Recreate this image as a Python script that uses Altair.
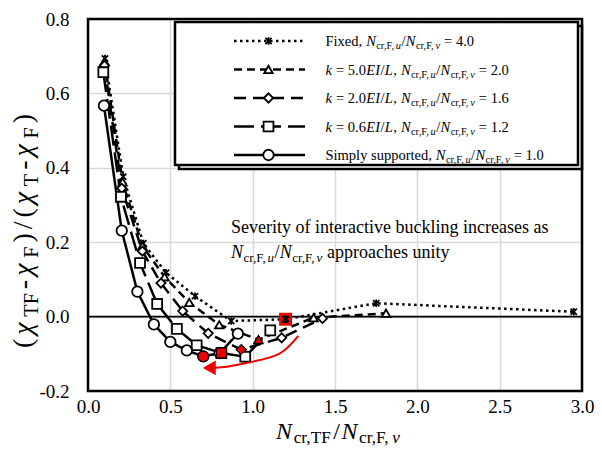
import altair as alt
import pandas as pd

# ---------------- data ----------------
series_names = ["Fixed", "k5", "k2", "k06", "SS"]
fixed_x = [0.103, 0.214, 0.336, 0.474, 0.650, 0.870, 1.200, 1.750, 2.950]
fixed_y = [0.694, 0.376, 0.197, 0.118, 0.055, -0.012, -0.007, 0.036, 0.013]
k5_x = [0.100, 0.210, 0.330, 0.465, 0.615, 0.797, 1.035, 1.370, 1.810]
k5_y = [0.685, 0.362, 0.190, 0.107, 0.038, -0.022, -0.062, -0.003, 0.009]
k2_x = [0.100, 0.205, 0.330, 0.443, 0.575, 0.730, 0.931, 1.176, 1.424]
k2_y = [0.675, 0.345, 0.176, 0.090, 0.015, -0.045, -0.089, -0.057, -0.005]
k06_x = [0.093, 0.200, 0.316, 0.420, 0.540, 0.660, 0.810, 0.955, 1.107]
k06_y = [0.657, 0.322, 0.144, 0.034, -0.033, -0.077, -0.098, -0.108, -0.037]
ss_x = [0.097, 0.205, 0.300, 0.400, 0.500, 0.600, 0.700, 0.800, 0.910]
ss_y = [0.567, 0.231, 0.067, -0.021, -0.068, -0.091, -0.107, -0.098, -0.046]
red_index = 6
arrow_x = [1.277, 1.166, 1.002, 0.842, 0.740]
arrow_y = [-0.052, -0.099, -0.121, -0.135, -0.138]
x_ticks = [0.0, 0.5, 1.0, 1.5, 2.0, 2.5, 3.0]
y_ticks = [-0.2, 0.0, 0.2, 0.4, 0.6, 0.8]
legend_prefix = ["Fixed", "5.0", "2.0", "0.6", "Simply supported"]
legend_ratio = ["4.0", "2.0", "1.6", "1.2", "1.0"]

# ---------------- geometry / styles ----------------
W, H = 494, 372
X0, X1, Y0, Y1 = 0.0, 3.0, -0.2, 0.8
FONT = "Liberation Serif"
RED = "#ee0000"
xs = alt.Scale(domain=[X0, X1], nice=False, zero=False)
ys = alt.Scale(domain=[Y0, Y1], nice=False, zero=False)

axis_x = alt.Axis(values=x_ticks, title=None, grid=True, ticks=False, domain=False,
                  labelExpr="format(datum.value, '.1f')", labelPadding=6,
                  labelFlush=False, labelOverlap=False,
                  labelFontSize=19, labelFont=FONT, labelColor="black",
                  gridColor="#d9d9d9", gridWidth=1.5)
axis_y = alt.Axis(values=y_ticks, title=None, grid=True, ticks=False, domain=False,
                  labelExpr="replace(format(datum.value, '.1f'), '\u2212', '-')",
                  labelPadding=19, labelFlush=False, labelOverlap=False,
                  labelFontSize=19, labelFont=FONT,
                  labelColor="black", gridColor="#d9d9d9", gridWidth=1.5)


def X():
    return alt.X("x:Q", scale=xs, axis=axis_x)


def Y():
    return alt.Y("y:Q", scale=ys, axis=axis_y)


def px2x(p):
    return X0 + p / W * (X1 - X0)


def py2y(p):
    return Y1 - p / H * (Y1 - Y0)


rows = []
for name, xv, yv in zip(series_names, [fixed_x, k5_x, k2_x, k06_x, ss_x],
                        [fixed_y, k5_y, k2_y, k06_y, ss_y]):
    for i, (a, b) in enumerate(zip(xv, yv)):
        rows.append(dict(series=name, x=a, y=b, idx=i))
df = pd.DataFrame(rows)

XPATH = "M-0.8,-0.8L0.8,0.8M-0.8,0.8L0.8,-0.8M0,-0.95L0,0.95"
dash_scale = alt.Scale(domain=series_names,
                       range=[[2.5, 3.5], [8, 5], [12, 7], [20, 7], [1, 0]])
width_scale = alt.Scale(domain=series_names, range=[2.5, 2.5, 2.5, 2.5, 2.0])
shape_scale = alt.Scale(domain=series_names,
                        range=[XPATH, "triangle-up", "diamond", "square", "circle"])
size_scale = alt.Scale(domain=series_names, range=[60, 110, 110, 75, 70])

base = alt.Chart(df)
lines = base.mark_line(color="black").encode(
    x=X(), y=Y(), detail="series:N", order="idx:Q",
    strokeDash=alt.StrokeDash("series:N", scale=dash_scale, legend=None),
    strokeWidth=alt.StrokeWidth("series:N", scale=width_scale, legend=None),
)
points = base.mark_point(fill="white", stroke="black", strokeWidth=1.8, opacity=1,
                         filled=False).encode(
    x=X(), y=Y(),
    shape=alt.Shape("series:N", scale=shape_scale, legend=None),
    size=alt.Size("series:N", scale=size_scale, legend=None),
)
red_df = df[(df.idx == red_index) & (df.series != "Fixed")]
red_pts = alt.Chart(red_df).mark_point(fill=RED, stroke="black", strokeWidth=1,
                                       opacity=1, filled=True).encode(
    x=X(), y=Y(),
    shape=alt.Shape("series:N", scale=shape_scale, legend=None),
    size=alt.Size("series:N", scale=size_scale, legend=None),
)
fixed_red = df[(df.idx == red_index) & (df.series == "Fixed")]
red_sq = alt.Chart(fixed_red).mark_point(shape="square", fill=RED, stroke=RED,
                                         filled=True, size=120, opacity=1).encode(x=X(), y=Y())
red_x = alt.Chart(fixed_red).mark_point(shape=XPATH, stroke="black", strokeWidth=2.5,
                                        filled=False, size=60, opacity=1).encode(x=X(), y=Y())

zero = alt.Chart(pd.DataFrame({"y": [0.0]})).mark_rule(color="black", strokeWidth=1.8).encode(y=Y())

arrow_df = pd.DataFrame({"x": arrow_x, "y": arrow_y, "o": range(len(arrow_x))})
arrow = alt.Chart(arrow_df).mark_line(color=RED, strokeWidth=2, interpolate="natural").encode(
    x=X(), y=Y(), order="o:Q")
head = alt.Chart(arrow_df.tail(1)).mark_point(shape="triangle-left", fill=RED, stroke=RED,
                                              filled=True, size=130, opacity=1, dx=-7).encode(
    x=X(), y=Y())

# ---------------- legend ----------------
leg_rows_px = [22, 50.5, 79, 107.5, 136]
lx0, lx1, lxm = 146, 217, 180.5
leg_lines = pd.DataFrame([dict(series=s, x=px2x(p), y=py2y(r), o=j)
                          for s, r in zip(series_names, leg_rows_px)
                          for j, p in enumerate([lx0, lx1])])
leg_marks = pd.DataFrame([dict(series=s, x=px2x(lxm), y=py2y(r))
                          for s, r in zip(series_names, leg_rows_px)])
leg_line_layer = alt.Chart(leg_lines).mark_line(color="black").encode(
    x=X(), y=Y(), detail="series:N", order="o:Q",
    strokeDash=alt.StrokeDash("series:N", scale=dash_scale, legend=None),
    strokeWidth=alt.StrokeWidth("series:N", scale=width_scale, legend=None))
leg_mark_layer = alt.Chart(leg_marks).mark_point(fill="white", stroke="black", strokeWidth=1.8,
                                                 opacity=1, filled=False).encode(
    x=X(), y=Y(),
    shape=alt.Shape("series:N", scale=shape_scale, legend=None),
    size=alt.Size("series:N", scale=size_scale, legend=None))
box_shadow = alt.Chart(pd.DataFrame({"a": [0]})).mark_rect(
    fill="white", stroke="black", strokeWidth=2.5).encode(
    x=alt.value(91), x2=alt.value(494), y=alt.value(7), y2=alt.value(150))
box = alt.Chart(pd.DataFrame({"a": [0]})).mark_rect(
    fill="white", stroke="black", strokeWidth=2.5).encode(
    x=alt.value(87), x2=alt.value(490), y=alt.value(3), y2=alt.value(146))
border = alt.Chart(pd.DataFrame({"a": [0]})).mark_rect(
    fill=None, stroke="black", strokeWidth=2.5).encode(
    x=alt.value(0), x2=alt.value(W), y=alt.value(0), y2=alt.value(H))

# ---------------- composed math text ----------------
RM = {' ': .25, ',': .25, '.': .25, '/': .278, '=': .564, '(': .333, ')': .333,
      '-': .333, 'F': .556, 'T': .611, 'N': .722, 'S': .556, 'a': .444, 'b': .5,
      'c': .444, 'd': .5, 'e': .444, 'f': .333, 'g': .5, 'h': .5, 'i': .278,
      'k': .5, 'l': .278, 'm': .778, 'n': .5, 'o': .5, 'p': .5, 'r': .333,
      's': .389, 't': .278, 'u': .5, 'v': .5, 'x': .5, 'y': .5, '\u03c7': .5}
IT = {'N': .667, 'E': .611, 'I': .333, 'L': .556, 'k': .444, 'u': .5, 'v': .444,
      '\u03c7': .5}
SUBR = 0.72
text_rows = []


def compose(pieces, x0, y0, size, gap=0.0, vertical=False, center=False, subshift=0.22):
    def wid(t, st):
        tab = IT if st in ("it", "subit") else RM
        s = size * SUBR if st.startswith("sub") else size
        return sum(tab.get(ch, RM.get(ch, .5)) for ch in t) * s
    widths = [wid(t, st) for t, st in pieces]
    total = sum(widths) + gap * (len(pieces) - 1)
    if vertical:
        pos = y0 + total / 2 if center else y0
    else:
        pos = x0 - total / 2 if center else x0
    for (t, st), w in zip(pieces, widths):
        sub = st.startswith("sub")
        s = round(size * SUBR, 1) if sub else size
        shift = size * subshift if sub else 0
        lead = wid(t[:len(t) - len(t.lstrip(" "))], st)
        shown = t.strip(" ")
        if vertical:
            px, py = x0 + shift, pos - lead
            pos -= w + gap
        else:
            px, py = pos + lead, y0 + shift
            pos += w + gap
        if shown:
            text_rows.append(dict(t=shown, x=px2x(px), y=py2y(py), size=s,
                                  ital=st in ("it", "subit"), ang=270 if vertical else 0))


def ratio_pieces():
    return [("N", "it"), ("cr,F,", "sub"), ("u", "subit"), ("/", "rm"),
            ("N", "it"), ("cr,F,", "sub"), ("v", "subit")]


LS = 14.5
for i, (pre, rat) in enumerate(zip(legend_prefix, legend_ratio)):
    if i in (0, 4):
        head_p = [(pre + ", ", "rm")]
    else:
        head_p = [("k", "it"), (" = " + pre, "rm"), ("EI", "it"), ("/", "rm"),
                  ("L", "it"), (", ", "rm")]
    compose(head_p + ratio_pieces() + [(" = " + rat, "rm")],
            237.5, leg_rows_px[i] + 5, LS, gap=0.4)

compose([("Severity of interactive buckling increases as", "rm")], 143, 214, 18)
compose(ratio_pieces() + [(" approaches unity", "rm")], 143, 239, 18, gap=0.4)
compose([("N", "it"), ("cr,TF", "sub"), ("/", "rm"), ("N", "it"), ("cr,F,", "sub"),
         ("v", "subit")], 250, 420, 24, gap=1.6, center=True, subshift=0.17)
compose([("(", "rm"), ("\u03c7", "it"), ("TF", "sub"), ("-", "rm"), ("\u03c7", "it"),
         ("F", "sub"), (")", "rm"), ("/", "rm"), ("(", "rm"), ("\u03c7", "it"),
         ("T", "sub"), ("-", "rm"), ("\u03c7", "it"), ("F", "sub"), (")", "rm")],
        -56, 212, 28, gap=4, vertical=True, center=True)

tdf = pd.DataFrame(text_rows)
text_layers = []
for (s, it, ang), g in tdf.groupby(["size", "ital", "ang"]):
    text_layers.append(
        alt.Chart(g).mark_text(font=FONT, fontSize=float(s),
                               fontStyle="italic" if it else "normal",
                               align="left", baseline="alphabetic", angle=int(ang),
                               color="black").encode(x=X(), y=Y(), text="t:N"))

chart = alt.layer(
    box_shadow, box, zero, lines, points, red_sq, red_x, red_pts, arrow, head,
    leg_line_layer, leg_mark_layer, *text_layers, border
).properties(
    width=W, height=H,
    autosize=alt.AutoSizeParams(type="none"),
    padding={"left": 80, "top": 11, "right": 12, "bottom": 57},
    background="white",
).configure_view(stroke=None)

chart.save("out.html", embed_options={"renderer": "svg", "actions": False})
